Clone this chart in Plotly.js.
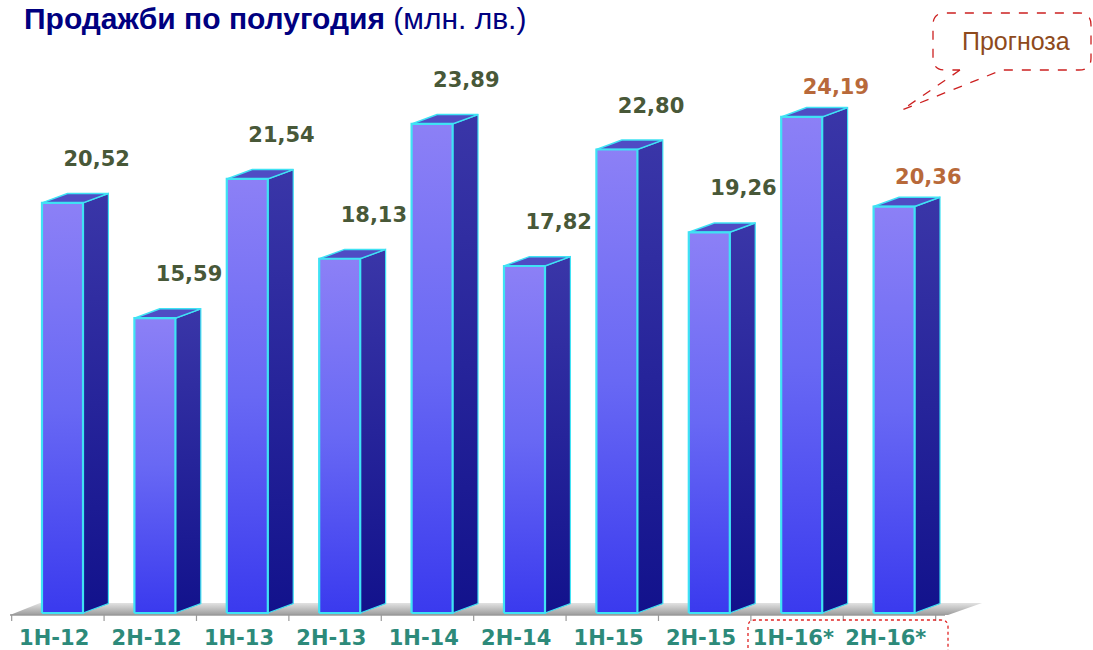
<!DOCTYPE html>
<html>
<head>
<meta charset="utf-8">
<script src="https://cdn.plot.ly/plotly-3.0.1.min.js"></script>
<style>html,body{margin:0;padding:0;background:#fff;}#chart{width:1093px;height:650px;}</style>
</head>
<body>
<div id="chart"></div>
<script>
// ---- data ----
var categories = ['1H-12','2H-12','1H-13','2H-13','1H-14','2H-14','1H-15','2H-15','1H-16*','2H-16*'];
var sales = [20.52, 15.59, 21.54, 18.13, 23.89, 17.82, 22.80, 19.26, 24.19, 20.36];
var forecastFlags = [false, false, false, false, false, false, false, false, true, true];
var titleBold = 'Продажби по полугодия';
var titleUnit = '(млн. лв.)';
var calloutText = 'Прогноза';

// ---- layout geometry ----
var W = 1093, H = 650, MT = 80, MB = 35;
var plotH = H - MT - MB;
var xRange = [-0.6764, 11.1526];
var yRange = [2.906, 25.769];
var base = 2.99;
var halfW = 0.222, depthX = 0.275, depthY = 0.4;

function PX(px){ return px / W; }
function PY(py){ return (H - MB - py) / plotH; }
function UX(px){ return xRange[0] + px / W * (xRange[1] - xRange[0]); }
function VY(py){ return yRange[0] + (H - MB - py) / plotH * (yRange[1] - yRange[0]); }

var cyan = '#3fe2f4';
var traces = [];

// floor
traces.push({
  type: 'scatter', mode: 'lines', hoverinfo: 'skip',
  x: [UX(10), UX(948), UX(982), UX(40), UX(10)],
  y: [VY(615), VY(615), VY(603), VY(603), VY(615)],
  fill: 'toself', line: {width: 0, color: 'rgba(0,0,0,0)'},
  fillgradient: {type: 'vertical', colorscale: [[0, '#9c9c9c'], [1, '#e2e2e2']]}
});

sales.forEach(function(v, i){
  var x0 = i - halfW, x1 = i + halfW;
  // side face
  traces.push({
    type: 'scatter', mode: 'lines', hoverinfo: 'skip',
    x: [x1, x1 + depthX, x1 + depthX, x1, x1],
    y: [base, base + depthY, v + depthY, v, base],
    fill: 'toself', line: {color: cyan, width: 1.2},
    fillgradient: {type: 'vertical', colorscale: [[0, '#12128c'], [1, '#3a36a8']]}
  });
  // top face
  traces.push({
    type: 'scatter', mode: 'lines', hoverinfo: 'skip',
    x: [x0, x1, x1 + depthX, x0 + depthX, x0],
    y: [v, v, v + depthY, v + depthY, v],
    fill: 'toself', fillcolor: '#4f4cc4', line: {color: cyan, width: 1.5}
  });
  // front face
  traces.push({
    type: 'scatter', mode: 'lines', hoverinfo: 'text',
    text: categories[i] + ': ' + v.toFixed(2).replace('.', ','),
    x: [x0, x1, x1, x0, x0],
    y: [base, base, v, v, base],
    fill: 'toself', line: {color: cyan, width: 2.2},
    fillgradient: {type: 'vertical', colorscale: [[0, '#3a3aee'], [0.5, '#6868f4'], [1, '#8c80f6']]}
  });
});

function labelTrace(flag, dy, color){
  var xs = [], ys = [], ts = [];
  sales.forEach(function(v, i){
    if (forecastFlags[i] === flag) {
      xs.push(i + 0.37); ys.push(v + dy); ts.push(v.toFixed(2).replace('.', ','));
    }
  });
  return {
    type: 'scatter', mode: 'text', hoverinfo: 'skip', cliponaxis: false,
    x: xs, y: ys, text: ts, textposition: 'middle center',
    textfont: {family: 'DejaVu Sans, Verdana, sans-serif', size: 21, color: color, weight: 'bold'}
  };
}
traces.push(labelTrace(false, 1.8, '#485838'));
traces.push(labelTrace(true, 1.2, '#b8693a'));

// axis line and ticks
var shapes = [];
shapes.push({type: 'line', xref: 'x', yref: 'paper', x0: UX(10), x1: UX(945), y0: 0, y1: 0,
  line: {color: '#9a9a9a', width: 1.5}});
for (var k = -1; k < categories.length; k++) {
  shapes.push({type: 'line', xref: 'x', yref: 'paper', x0: k + 0.45, x1: k + 0.45, y0: 0, y1: PY(621),
    line: {color: '#9a9a9a', width: 1.2}});
}

// callout box with tail
function r(x, y){ return PX(x).toFixed(5) + ',' + PY(y).toFixed(5); }
var bx0 = 933, bx1 = 1091, by0 = 13, by1 = 70, rad = 12;
var calloutPath = 'M ' + r(960, by1) + ' L ' + r(902, 110) + ' L ' + r(1002, by1) +
  ' L ' + r(bx1 - rad, by1) + ' Q ' + r(bx1, by1) + ' ' + r(bx1, by1 - rad) +
  ' L ' + r(bx1, by0 + rad) + ' Q ' + r(bx1, by0) + ' ' + r(bx1 - rad, by0) +
  ' L ' + r(bx0 + rad, by0) + ' Q ' + r(bx0, by0) + ' ' + r(bx0, by0 + rad) +
  ' L ' + r(bx0, by1 - rad) + ' Q ' + r(bx0, by1) + ' ' + r(bx0 + rad, by1) +
  ' L ' + r(960, by1);
shapes.push({type: 'path', xref: 'paper', yref: 'paper', path: calloutPath,
  line: {color: '#cc2020', width: 1.3, dash: 'dash'}});

// forecast bracket at the bottom
var fx0 = 748, fx1 = 948, fy0 = 620, fy1 = 660, fr = 7;
var bracketPath = 'M ' + r(fx0, fy1) + ' L ' + r(fx0, fy0 + fr) + ' Q ' + r(fx0, fy0) + ' ' + r(fx0 + fr, fy0) +
  ' L ' + r(fx1 - fr, fy0) + ' Q ' + r(fx1, fy0) + ' ' + r(fx1, fy0 + fr) + ' L ' + r(fx1, fy1);
shapes.push({type: 'path', xref: 'paper', yref: 'paper', path: bracketPath,
  line: {color: '#e02424', width: 1.3, dash: 'dot'}});

var annotations = [
  {xref: 'paper', yref: 'paper', x: PX(22), y: PY(19), xanchor: 'left', yanchor: 'middle', showarrow: false,
   text: '<b>' + titleBold + '</b> ' + titleUnit,
   font: {family: 'Liberation Sans, Arial, sans-serif', size: 30, color: '#000080'}},
  {xref: 'paper', yref: 'paper', x: PX(1016), y: PY(41), xanchor: 'center', yanchor: 'middle', showarrow: false,
   text: calloutText,
   font: {family: 'Liberation Sans, Arial, sans-serif', size: 25, color: '#8e4a1c'}}
];

var layout = {
  width: W, height: H,
  margin: {l: 0, r: 0, t: MT, b: MB, pad: 0},
  paper_bgcolor: '#ffffff', plot_bgcolor: '#ffffff',
  showlegend: false,
  xaxis: {range: xRange, showgrid: false, zeroline: false, showline: false, fixedrange: true,
    tickmode: 'array', tickvals: categories.map(function(c, i){ return i - 0.09; }), ticktext: categories,
    ticks: '', ticklabelstandoff: 8,
    tickfont: {family: 'DejaVu Sans, Verdana, sans-serif', size: 21, color: '#2d8a7a', weight: 'bold'}},
  yaxis: {range: yRange, visible: false, showgrid: false, zeroline: false, fixedrange: true},
  shapes: shapes,
  annotations: annotations
};

Plotly.newPlot('chart', traces, layout, {displayModeBar: false, staticPlot: false});
</script>
</body>
</html>
